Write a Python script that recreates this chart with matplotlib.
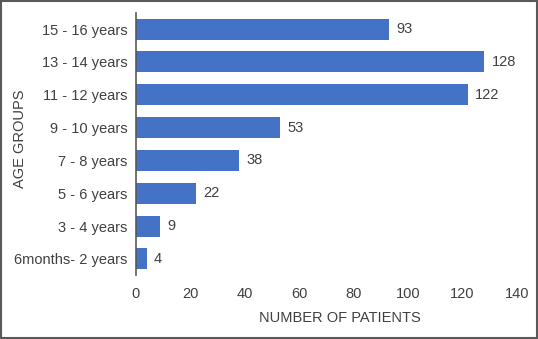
import numpy as np
import matplotlib
matplotlib.use("Agg")
import matplotlib.pyplot as plt
from matplotlib.patches import Rectangle

# data (bottom to top)
age_groups = ["6months- 2 years", "3 - 4 years", "5 - 6 years", "7 - 8 years",
              "9 - 10 years", "11 - 12 years", "13 - 14 years", "15 - 16 years"]
patients = [4, 9, 22, 38, 53, 122, 128, 93]
x_ticks = [0, 20, 40, 60, 80, 100, 120, 140]

plt.rcParams['font.family'] = ['Liberation Sans', 'DejaVu Sans']
text_col = "#404040"
fs = 10.5

fig = plt.figure(figsize=(5.38, 3.39), dpi=100)
ax = fig.add_axes([136 / 538, 1 - 275.4 / 339, 381 / 538, 262.8 / 339])

y = np.arange(len(age_groups))
ax.barh(y, patients, height=0.64, color="#4472C4")

for yi, v in zip(y, patients):
    ax.text(v + 2.6, yi, str(v), va="center", ha="left", fontsize=fs, color=text_col)

ax.set_xlim(0, 140)
ax.set_ylim(-0.5, len(age_groups) - 0.5)
ax.set_xticks(x_ticks)
ax.set_yticks(y)
ax.set_yticklabels(age_groups)
ax.tick_params(axis="both", length=0, labelsize=fs, labelcolor=text_col)
ax.tick_params(axis="x", pad=8.5)
ax.tick_params(axis="y", pad=6)

for s in ["top", "right", "bottom"]:
    ax.spines[s].set_visible(False)
ax.spines["left"].set_color("#595959")
ax.spines["left"].set_linewidth(1.2)

ax.set_xlabel("NUMBER OF PATIENTS", fontsize=fs, color=text_col)
ax.xaxis.set_label_coords(0.535, -0.135)
ax.set_ylabel("AGE GROUPS", fontsize=fs, color=text_col)
ax.yaxis.set_label_coords(-0.285, 0.52)

# thin frame round the whole picture
fig.patches.append(Rectangle((0.002, 0.003), 0.996, 0.994, transform=fig.transFigure,
                             fill=False, edgecolor="#595959", linewidth=1.5))

fig.savefig("out.png", dpi=100)
